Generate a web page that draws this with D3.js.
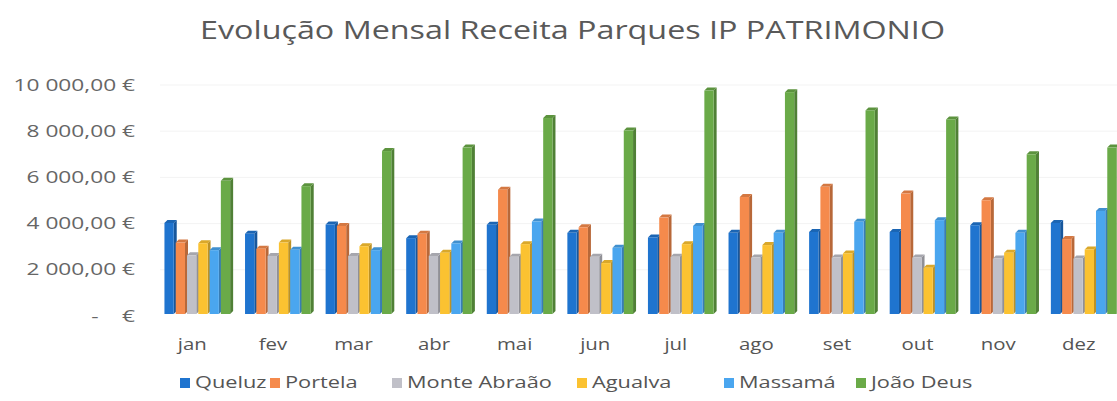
<html>
  <head>
    <style>
    body {
      margin: 0px;
      background: white;
    }
    text {
      font-family: "Open Sans", "Noto Sans", sans-serif;
    }
    </style>
  </head>
  <body>
    <div id="elm"></div>

    <script src="https://d3js.org/d3.v7.min.js"></script>
    <script>
    'use strict';

    // months and series
    var months = ['jan', 'fev', 'mar', 'abr', 'mai', 'jun', 'jul', 'ago', 'set', 'out', 'nov', 'dez'];
    var seriesNames = ['Queluz', 'Portela', 'Monte Abraão', 'Agualva', 'Massamá', 'João Deus'];
    var seriesColors = ['#1f74cf', '#f58a4c', '#c0c0c8', '#fbc231', '#4aa6ef', '#6aaa48'];

    var queluz     = [4030, 3560, 3960, 3370, 3950, 3600, 3400, 3600, 3640, 3640, 3930, 4030];
    var portela    = [3180, 2910, 3900, 3560, 5470, 3840, 4260, 5150, 5590, 5300, 5010, 3330];
    var monteAbrao = [2630, 2600, 2600, 2600, 2560, 2560, 2560, 2530, 2530, 2530, 2490, 2490];
    var agualva    = [3150, 3180, 3020, 2740, 3110, 2290, 3110, 3070, 2710, 2090, 2740, 2880];
    var massama    = [2850, 2870, 2850, 3140, 4090, 2950, 3900, 3600, 4080, 4150, 3600, 4550];
    var joaoDeus   = [5850, 5620, 7140, 7290, 8570, 8030, 9760, 9690, 8900, 8510, 7000, 7290];

    var yTicks = [0, 2000, 4000, 6000, 8000, 10000];

    var allSeries = [queluz, portela, monteAbrao, agualva, massama, joaoDeus];

    var W = 1117, H = 401;
    var svg = d3.select('#elm').append('svg')
      .attr('width', W).attr('height', H);

    var x0 = d3.scaleBand().domain(months).range([158, 1125])
      .paddingInner(0.16).paddingOuter(0.08);
    var x1 = d3.scaleBand().domain(d3.range(seriesNames.length))
      .range([0, x0.bandwidth()]);
    var y = d3.scaleLinear().domain([0, 10000]).range([316, 85]);

    // title (the source picture is stretched sideways)
    svg.append('text')
      .attr('x', 200).attr('y', 39)
      .attr('textLength', 745)
      .attr('lengthAdjust', 'spacingAndGlyphs')
      .attr('fill', '#595959')
      .style('font-size', '25px')
      .text('Evolução Mensal Receita Parques IP PATRIMONIO');

    // gridlines (very faint)
    svg.append('g').selectAll('line').data(yTicks.slice(1))
      .join('line')
      .attr('x1', 160).attr('x2', W)
      .attr('y1', d => y(d)).attr('y2', d => y(d))
      .attr('stroke', '#f3f3f3');

    // y axis
    var fmt = d3.formatLocale({ decimal: ',', thousands: ' ', grouping: [3], currency: ['', ' €'] }).format(',.2f');
    var yAxis = d3.axisLeft(y).tickValues(yTicks).tickSize(0).tickPadding(0)
      .tickFormat(d => d === 0 ? '-    €' : fmt(d) + ' €');
    var gy = svg.append('g').attr('transform', 'translate(135,0)').call(yAxis);
    gy.select('.domain').remove();
    gy.selectAll('text')
      .attr('transform', 'scale(1.42,1)')
      .style('font-family', '"Open Sans", sans-serif')
      .style('font-size', '16px')
      .style('white-space', 'pre')
      .attr('fill', '#666');

    // bars, drawn with a slight 3D look
    var depth = 3;
    var groups = svg.append('g').selectAll('g').data(months)
      .join('g')
      .attr('transform', d => 'translate(' + x0(d) + ',0)');

    groups.each(function(m, mi) {
      var g = d3.select(this);
      allSeries.forEach(function(vals, si) {
        var v = vals[mi];
        var bx = x1(si);
        var bw = x1.bandwidth() - depth + 1;
        var top = y(v);
        var base = y(0) - 2;
        var c = d3.color(seriesColors[si]);
        // side face
        g.append('path')
          .attr('d', 'M' + (bx + bw) + ',' + top +
                     'L' + (bx + bw + depth) + ',' + (top - depth) +
                     'L' + (bx + bw + depth) + ',' + (base - depth) +
                     'L' + (bx + bw) + ',' + base + 'Z')
          .attr('fill', c.darker(0.8));
        // top face
        g.append('path')
          .attr('d', 'M' + bx + ',' + top +
                     'L' + (bx + depth) + ',' + (top - depth) +
                     'L' + (bx + bw + depth) + ',' + (top - depth) +
                     'L' + (bx + bw) + ',' + top + 'Z')
          .attr('fill', c.darker(0.4));
        // front face
        g.append('rect')
          .attr('x', bx).attr('y', top)
          .attr('width', bw).attr('height', base - top)
          .attr('fill', c);
      });
    });

    // month labels
    svg.append('g').selectAll('text').data(months)
      .join('text')
      .attr('transform', d => 'translate(' + (x0(d) + x0.bandwidth() / 2 - 6) + ',350) scale(1.2,1)')
      .attr('text-anchor', 'middle')
      .attr('fill', '#555')
      .style('font-size', '17px')
      .text(d => d);

    // legend
    var legendX = [180, 270, 392, 577, 724, 856];
    var lg = svg.append('g').selectAll('g').data(seriesNames)
      .join('g')
      .attr('transform', (d, i) => 'translate(' + legendX[i] + ',388)');
    lg.append('rect')
      .attr('x', 0).attr('y', -10).attr('width', 10).attr('height', 10)
      .attr('fill', (d, i) => seriesColors[i]);
    lg.append('text')
      .attr('transform', 'translate(15,0) scale(1.28,1)')
      .attr('fill', '#555')
      .style('font-size', '17px')
      .text(d => d);
    </script>
  </body>
</html>
